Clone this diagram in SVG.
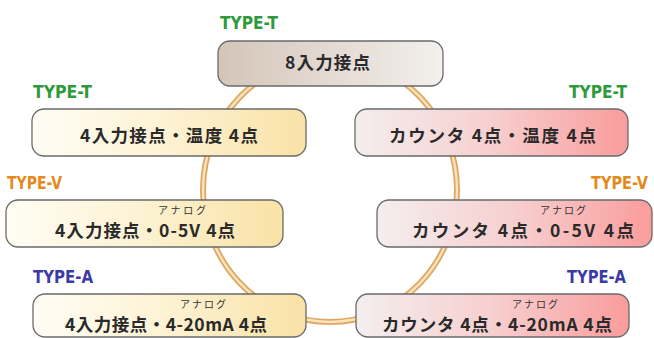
<svg xmlns="http://www.w3.org/2000/svg" width="654" height="338" viewBox="0 0 654 338">
<defs>
<linearGradient id="gTop" x1="0" y1="0" x2="1" y2="0">
<stop offset="0" stop-color="#d4c5b8"/><stop offset="1" stop-color="#f3f0ed"/>
</linearGradient>
<linearGradient id="gY" x1="0" y1="0" x2="1" y2="0">
<stop offset="0" stop-color="#fffdf4"/><stop offset="0.45" stop-color="#fdf3d6"/><stop offset="1" stop-color="#f9e2a6"/>
</linearGradient>
<linearGradient id="gP" x1="0" y1="0" x2="1" y2="0">
<stop offset="0" stop-color="#f4eeee"/><stop offset="0.5" stop-color="#f7cfcf"/><stop offset="1" stop-color="#fa9c9c"/>
</linearGradient>
<style>
.box{stroke:#6a6a6a;stroke-width:1.3}
.main{font-family:"Noto Sans CJK JP","Noto Sans",sans-serif;font-weight:bold;font-size:17.5px;fill:#2a2a2a}
.small{font-family:"Noto Sans CJK JP",sans-serif;font-size:10px;fill:#333}
.lbl{font-family:"DejaVu Sans","Liberation Sans",sans-serif;font-stretch:condensed;font-weight:bold;font-size:18px}
.t{fill:#2e9a3c}.v{fill:#e48a1c}.a{fill:#3b3aa6}
</style>
</defs>
<rect width="654" height="338" fill="#ffffff"/>
<g id="connectors">
<ellipse cx="330" cy="190" rx="127" ry="132" fill="none" stroke="#dfa862" stroke-width="6"/>
<ellipse cx="330" cy="190" rx="127" ry="132" fill="none" stroke="#fbe3bd" stroke-width="2.4"/>
</g>
<g id="node-top">
<text class="lbl t" x="220" y="29" textLength="58" lengthAdjust="spacingAndGlyphs">TYPE-T</text>
<rect class="box" x="218" y="41" width="225" height="45" rx="12" fill="url(#gTop)"/>
<text class="main" x="285" y="69" textLength="85">8入力接点</text>
</g>
<g id="node-l1">
<text class="lbl t" x="33" y="98" textLength="59" lengthAdjust="spacingAndGlyphs">TYPE-T</text>
<rect class="box" x="32" y="109" width="274" height="47" rx="12" fill="url(#gY)"/>
<text class="main" x="80" y="142" textLength="178">4入力接点・温度 4点</text>
</g>
<g id="node-r1">
<text class="lbl t" x="569" y="98" textLength="58" lengthAdjust="spacingAndGlyphs">TYPE-T</text>
<rect class="box" x="355" y="109" width="273" height="47" rx="12" fill="url(#gP)"/>
<text class="main" x="389" y="142" textLength="207">カウンタ 4点・温度 4点</text>
</g>
<g id="node-lv">
<text class="lbl v" x="7" y="189" textLength="55" lengthAdjust="spacingAndGlyphs">TYPE-V</text>
<rect class="box" x="6" y="200" width="277" height="47" rx="12" fill="url(#gY)"/>
<text class="small" x="158" y="214" textLength="48">アナログ</text>
<text class="main" x="55" y="237" textLength="180">4入力接点・0-5V 4点</text>
</g>
<g id="node-rv">
<text class="lbl v" x="591" y="189" textLength="57" lengthAdjust="spacingAndGlyphs">TYPE-V</text>
<rect class="box" x="377" y="200" width="275" height="47" rx="12" fill="url(#gP)"/>
<text class="small" x="540" y="214" textLength="46">アナログ</text>
<text class="main" x="412" y="237" textLength="222">カウンタ 4点・0-5V 4点</text>
</g>
<g id="node-la">
<text class="lbl a" x="33" y="283" textLength="60" lengthAdjust="spacingAndGlyphs">TYPE-A</text>
<rect class="box" x="33" y="294" width="273" height="43" rx="12" fill="url(#gY)"/>
<text class="small" x="180" y="308" textLength="46">アナログ</text>
<text class="main" x="65" y="331" textLength="202">4入力接点・4-20mA 4点</text>
</g>
<g id="node-ra">
<text class="lbl a" x="567" y="283" textLength="59" lengthAdjust="spacingAndGlyphs">TYPE-A</text>
<rect class="box" x="356" y="294" width="273" height="43" rx="12" fill="url(#gP)"/>
<text class="small" x="512" y="308" textLength="46">アナログ</text>
<text class="main" x="382" y="331" textLength="230">カウンタ 4点・4-20mA 4点</text>
</g>
</svg>
